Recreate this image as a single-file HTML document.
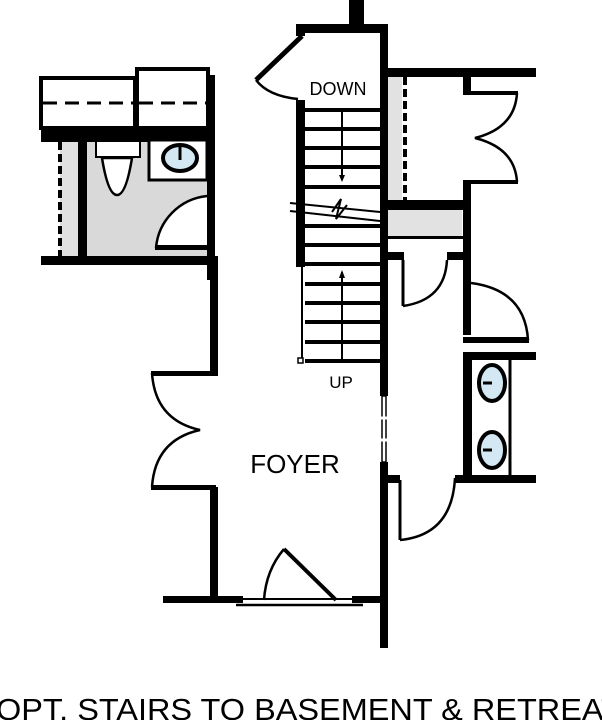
<!DOCTYPE html>
<html><head><style>
html,body{margin:0;padding:0;background:#fff;width:602px;height:720px;overflow:hidden}
svg{display:block}
text{font-family:"Liberation Sans",sans-serif;fill:#000}
</style></head><body>
<svg width="602" height="720" viewBox="0 0 602 720">
<rect x="87" y="142" width="120" height="114" fill="#d9d9d9"/>
<rect x="60" y="142" width="18" height="114" fill="#e0e0e0"/>
<rect x="388" y="77" width="14" height="123" fill="#e2e2e2"/>
<rect x="388" y="210" width="74" height="27" fill="#e2e2e2"/>
<rect x="41" y="78" width="94" height="50" fill="#fff" stroke="#000" stroke-width="4"/>
<rect x="137" y="69" width="71" height="59" fill="#fff" stroke="#000" stroke-width="4"/>
<line x1="43" y1="103" x2="133" y2="103" stroke="#000" stroke-width="3" stroke-dasharray="14,8"/>
<line x1="139" y1="103" x2="206" y2="103" stroke="#000" stroke-width="3" stroke-dasharray="14,8"/>
<rect x="41" y="127" width="174" height="15" fill="#000"/>
<rect x="207" y="75" width="8" height="205" fill="#000"/>
<rect x="41" y="256" width="174" height="9" fill="#000"/>
<line x1="60" y1="142" x2="60" y2="256" stroke="#000" stroke-width="4" stroke-dasharray="8,4"/>
<rect x="78" y="142" width="9" height="114" fill="#000"/>
<rect x="96" y="141" width="44" height="16" fill="#fff" stroke="#000" stroke-width="2"/>
<path d="M102 158 Q108 195 117 195 Q126 195 132 158 Z" fill="#fff" stroke="#000" stroke-width="2.5"/>
<rect x="149" y="140" width="58" height="40" fill="#fff" stroke="#000" stroke-width="3"/>
<ellipse cx="180" cy="158" rx="17" ry="13" fill="#d4e8f3" stroke="#000" stroke-width="4"/>
<line x1="180" y1="147" x2="180" y2="160" stroke="#000" stroke-width="3"/>
<path d="M156 248 A57 57 0 0 1 207 196 L207 248 Z" fill="#fff" stroke="none"/>
<path d="M156 248 A57 57 0 0 1 207 196" fill="none" stroke="#000" stroke-width="2.5"/>
<rect x="155" y="245" width="55" height="5" fill="#000"/>
<rect x="210" y="256" width="8" height="120" fill="#000"/>
<rect x="151" y="371" width="65" height="5" fill="#000"/>
<rect x="151" y="485" width="65" height="5" fill="#000"/>
<rect x="210" y="487" width="8" height="112" fill="#000"/>
<path d="M152 373 Q155 420 200 430 Q155 440 152 487" fill="none" stroke="#000" stroke-width="2.5"/>
<rect x="163" y="596" width="80" height="7" fill="#000"/>
<rect x="352" y="596" width="32" height="7" fill="#000"/>
<line x1="236" y1="605" x2="363" y2="605" stroke="#000" stroke-width="2.5"/>
<line x1="243" y1="599" x2="356" y2="599" stroke="#000" stroke-width="2"/>
<line x1="284" y1="549" x2="336" y2="600" stroke="#000" stroke-width="4"/>
<path d="M284 549 Q266 570 264 600" fill="none" stroke="#000" stroke-width="2.5"/>
<rect x="349" y="0" width="15" height="26" fill="#000"/>
<rect x="296" y="24" width="92" height="9" fill="#000"/>
<rect x="380" y="24" width="8" height="372" fill="#000"/>
<rect x="380" y="462" width="8" height="186" fill="#000"/>
<rect x="382" y="396" width="4" height="66" fill="#fff" stroke="#000" stroke-width="1.5"/>
<line x1="380" y1="418" x2="388" y2="418" stroke="#fff" stroke-width="3"/>
<line x1="380" y1="440" x2="388" y2="440" stroke="#fff" stroke-width="3"/>
<rect x="296" y="24" width="9" height="12" fill="#000"/>
<rect x="296" y="100" width="9" height="167" fill="#000"/>
<line x1="302" y1="267" x2="302" y2="360" stroke="#000" stroke-width="2"/>
<rect x="298" y="358" width="5" height="5" fill="#fff" stroke="#000" stroke-width="1.5"/>
<line x1="302" y1="36" x2="256" y2="80" stroke="#000" stroke-width="5"/>
<path d="M256 80 Q268 96 298 99" fill="none" stroke="#000" stroke-width="2.5"/>
<text x="338" y="95" font-size="18" text-anchor="middle">DOWN</text>
<g fill="#000">
<rect x="305" y="108" width="75" height="4"/><rect x="305" y="127" width="75" height="4"/>
<rect x="305" y="146" width="75" height="4"/><rect x="305" y="165" width="75" height="4"/>
<rect x="305" y="185" width="75" height="4"/><rect x="305" y="224" width="75" height="4"/>
<rect x="305" y="243" width="75" height="4"/><rect x="305" y="262" width="75" height="4"/>
<rect x="305" y="282" width="75" height="4"/><rect x="305" y="301" width="75" height="4"/>
<rect x="305" y="320" width="75" height="4"/><rect x="305" y="340" width="75" height="4"/>
<rect x="305" y="359" width="75" height="4"/>
</g>
<line x1="342" y1="110" x2="342" y2="180" stroke="#000" stroke-width="2"/>
<path d="M339 175 L345 175 L342 182 Z" fill="#000"/>
<line x1="342" y1="272" x2="342" y2="360" stroke="#000" stroke-width="2"/>
<path d="M339 278 L345 278 L342 270 Z" fill="#000"/>
<polyline points="290,203 380,212" fill="none" stroke="#000" stroke-width="2"/>
<polyline points="290,211 380,221" fill="none" stroke="#000" stroke-width="2"/>
<polyline points="332,212 341,199 336,219 347,205" fill="none" stroke="#000" stroke-width="2"/>
<text x="341" y="388" font-size="17" text-anchor="middle">UP</text>
<text x="295" y="473" font-size="26" text-anchor="middle">FOYER</text>
<rect x="388" y="68" width="148" height="9" fill="#000"/>
<line x1="405" y1="77" x2="405" y2="200" stroke="#000" stroke-width="4" stroke-dasharray="8,4"/>
<rect x="463" y="77" width="8" height="18" fill="#000"/>
<rect x="463" y="180" width="8" height="155" fill="#000"/>
<rect x="471" y="91" width="47" height="4" fill="#000"/>
<rect x="471" y="180" width="47" height="4" fill="#000"/>
<path d="M517 93 Q515 128 475 138 Q515 148 517 182" fill="none" stroke="#000" stroke-width="2.5"/>
<rect x="388" y="200" width="83" height="10" fill="#000"/>
<rect x="388" y="236" width="75" height="3" fill="#000"/>
<rect x="388" y="252" width="16" height="8" fill="#000"/>
<rect x="447" y="252" width="16" height="8" fill="#000"/>
<line x1="403" y1="260" x2="403" y2="306" stroke="#000" stroke-width="3"/>
<path d="M403 306 Q445 300 447 260" fill="none" stroke="#000" stroke-width="2.5"/>
<path d="M471 283 Q525 290 528 340" fill="none" stroke="#000" stroke-width="2.5"/>
<rect x="463" y="337" width="66" height="6" fill="#000"/>
<rect x="463" y="352" width="73" height="8" fill="#000"/>
<rect x="463" y="352" width="9" height="130" fill="#000"/>
<line x1="510" y1="358" x2="510" y2="478" stroke="#000" stroke-width="3"/>
<rect x="455" y="475" width="81" height="8" fill="#000"/>
<ellipse cx="492" cy="383" rx="13" ry="18" fill="#d4e8f3" stroke="#000" stroke-width="4"/>
<line x1="483" y1="383" x2="492" y2="383" stroke="#000" stroke-width="3"/>
<ellipse cx="492" cy="450" rx="13" ry="18" fill="#d4e8f3" stroke="#000" stroke-width="4"/>
<line x1="483" y1="450" x2="492" y2="450" stroke="#000" stroke-width="3"/>
<rect x="388" y="475" width="12" height="8" fill="#000"/>
<line x1="400" y1="480" x2="400" y2="540" stroke="#000" stroke-width="3"/>
<path d="M400 540 Q452 535 455 478" fill="none" stroke="#000" stroke-width="2.5"/>
<text x="-4" y="720" font-size="31" textLength="625" lengthAdjust="spacingAndGlyphs">OPT. STAIRS TO BASEMENT &amp; RETREAT</text>
</svg>
</body></html>
